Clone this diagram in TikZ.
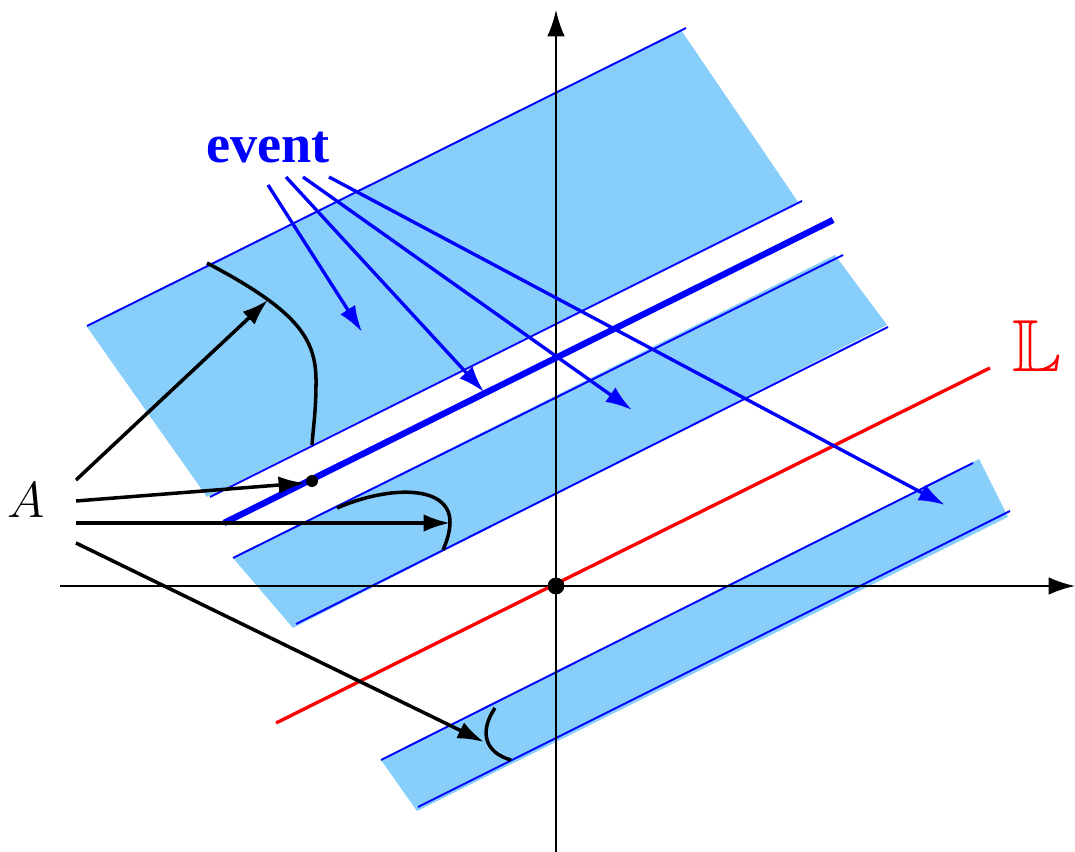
\documentclass[tikz,border=0pt]{standalone}
\usepackage{fontspec}
\usepackage{amssymb}
\newfontfamily\eventfont{Liberation Serif}
\usetikzlibrary{arrows.meta}
\definecolor{bandfill}{RGB}{135,206,250}
\begin{document}
\begin{tikzpicture}[x=0.01cm,y=-0.01cm,
  band/.style={fill=bandfill,draw=none},
  bandedge/.style={draw=blue,line width=0.55pt},
  axis/.style={draw=black,line width=0.6pt,-{Latex[length=7.5pt,width=5pt]}},
  blackarrow/.style={draw=black,line width=1pt,-{Latex[length=7.5pt,width=5pt]}},
  bluearrow/.style={draw=blue,line width=0.95pt,-{Latex[length=7.5pt,width=5pt]}},
  curvestyle/.style={draw=black,line width=1pt},
  dot/.style={circle,fill=black,inner sep=0pt}]
\useasboundingbox (0,0) rectangle (1075,852);
% bands
\fill[band] (87,327) -- (681,30) -- (798,202) -- (207,497) -- cycle;
\fill[band] (233,558) -- (835,255) -- (887,325) -- (293,628) -- cycle;
\fill[band] (381,760) -- (979,459) -- (1008,517) -- (417,811) -- cycle;
\draw[bandedge] (87,326) -- (686,28);
\draw[bandedge] (210,497) -- (802,201);
\draw[bandedge] (233,558) -- (843,255);
\draw[bandedge] (296,624) -- (888,327);
\draw[bandedge] (381,760) -- (973,463);
\draw[bandedge] (418,807) -- (1010,511);
% axes
\coordinate (xs) at (60,586);
\coordinate (xe) at (1075,586);
\coordinate (ys) at (556,852);
\coordinate (ye) at (556,10);
\draw[axis] (xs) -- (xe);
\draw[axis] (ys) -- (ye);
% red line L
\coordinate (ls) at (276,723);
\coordinate (le) at (990,368);
\draw[red,line width=0.95pt] (ls) -- (le);
\node[anchor=base west,inner sep=0pt,text=red] (Lab) at (1012,372) {\fontsize{21}{25}\selectfont$\mathbb{L}$};
% thick blue line
\coordinate (ts) at (224,523);
\coordinate (te) at (833,220);
\draw[blue,line width=1.8pt] (ts) -- (te);
% origin dot
\node[dot,minimum size=4.8pt] (O) at (556,586) {};
\node[dot,minimum size=3.4pt] (P) at (312,481) {};
% label A
\node[anchor=base west,inner sep=0pt] (A) at (7,518) {\fontsize{15}{18}\selectfont$A$};
% black arrows from A
\coordinate (a1s) at (76,480);
\coordinate (a1e) at (268,300);
\coordinate (a2s) at (76,501);
\coordinate (a2e) at (305,483);
\coordinate (a3s) at (76,523);
\coordinate (a3e) at (450,523);
\coordinate (a4s) at (76,543);
\coordinate (a4e) at (484,742);
\draw[blackarrow] (a1s) -- (a1e);
\draw[blackarrow] (a2s) -- (a2e);
\draw[blackarrow] (a3s) -- (a3e);
\draw[blackarrow] (a4s) -- (a4e);
% curves
\draw[curvestyle] (207,263) .. controls (300,312) and (317,340) .. (316,385) .. controls (316,410) and (313,430) .. (312,445);
\draw[curvestyle] (337,508) .. controls (390,485) and (450,485) .. (450,522) .. controls (450,533) and (446,543) .. (443,550);
\draw[curvestyle] (495,708) .. controls (480,730) and (483,752) .. (511,760);
% event label and arrows
\node[anchor=base west,inner sep=0pt,text=blue] (ev) at (206,163) {\eventfont\bfseries\fontsize{15.4}{18}\selectfont event};
\coordinate (b1s) at (268,185);
\coordinate (b1e) at (362,332);
\coordinate (b2s) at (286,177);
\coordinate (b2e) at (484,392);
\coordinate (b3s) at (303,177);
\coordinate (b3e) at (632,410);
\coordinate (b4s) at (329,177);
\coordinate (b4e) at (945,505);
\draw[bluearrow] (b1s) -- (b1e);
\draw[bluearrow] (b2s) -- (b2e);
\draw[bluearrow] (b3s) -- (b3e);
\draw[bluearrow] (b4s) -- (b4e);
\end{tikzpicture}
\end{document}
